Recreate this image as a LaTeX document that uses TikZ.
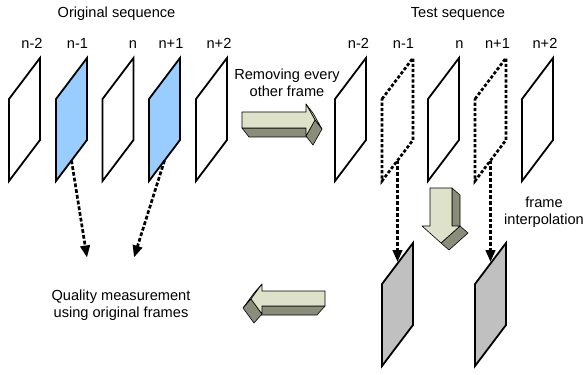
\documentclass[tikz,border=0pt]{standalone}
\usepackage{fontspec}
\setmainfont{Liberation Sans}
\usetikzlibrary{arrows.meta,calc}
\definecolor{blueframe}{HTML}{99CCFF}
\definecolor{grayframe}{HTML}{C0C0C0}
\definecolor{arrlight}{HTML}{DEE2CA}
\definecolor{arrdark}{HTML}{8B8D7B}
\definecolor{arrmid}{HTML}{BABDA7}
\newcommand\myframe[4]{%
  \coordinate (#1-tr) at ({#2+31},#3);
  \coordinate (#1-br) at ({#2+31},{#3+82});
  \coordinate (#1-bl) at (#2,{#3+123});
  \coordinate (#1-tl) at (#2,{#3+41});
  \coordinate (#1-bm) at ($(#1-bl)!0.5!(#1-br)$);
  \path[#4] (#1-tl) -- (#1-tr) -- (#1-br) -- (#1-bl) -- cycle;}
\begin{document}
\begin{tikzpicture}[x=1pt,y=-1pt,
  frame/.style={draw=black, line width=1.8pt, line join=miter, fill=white},
  dotframe/.style={draw=black, line width=2.7pt, dash pattern=on 3.2pt off 2pt},
  dotarrow/.style={draw=black, line width=2.7pt, dash pattern=on 3.8pt off 2pt, -{Triangle[width=9.5pt,length=12pt]}},
  lbl/.style={font=\fontsize{14.6}{16.5}\selectfont, anchor=base, inner sep=0pt},
  dface/.style={draw=black, line width=0.6pt, line join=round, fill=arrdark},
  mface/.style={draw=black, line width=0.6pt, line join=round, fill=arrmid},
  lface/.style={draw=black, line width=0.6pt, line join=round, fill=arrlight}]
\useasboundingbox (0,0) rectangle (585,374);

% titles
\node[lbl] (otitle) at (116.5,17.5) {Original sequence};
\node[lbl] (ttitle) at (458,17.5) {Test sequence};

% original frame labels
\node[lbl] (on2l) at (32,48.5) {n-2};
\node[lbl] (on1l) at (77.5,48.5) {n-1};
\node[lbl] (onl) at (133,48.5) {n};
\node[lbl] (op1l) at (171,48.5) {n+1};
\node[lbl] (op2l) at (219,48.5) {n+2};
% test frame labels
\node[lbl] (tn2l) at (358.5,48.5) {n-2};
\node[lbl] (tn1l) at (403.5,48.5) {n-1};
\node[lbl] (tnl) at (459.5,48.5) {n};
\node[lbl] (tp1l) at (497.5,48.5) {n+1};
\node[lbl] (tp2l) at (545,48.5) {n+2};

% original frames
\myframe{o1}{9}{58}{frame}
\myframe{o2}{56}{58}{frame,fill=blueframe}
\myframe{o3}{102.5}{58}{frame}
\myframe{o4}{149}{58}{frame,fill=blueframe}
\myframe{o5}{196}{58}{frame}

% test frames
\myframe{t1}{335}{58}{frame}
\myframe{t2}{382}{58}{dotframe}
\myframe{t3}{428}{58}{frame}
\myframe{t4}{475}{58}{dotframe}
\myframe{t5}{522}{58}{frame}

% interpolated frames
\myframe{g1}{382}{243}{frame,fill=grayframe}
\myframe{g2}{475}{243}{frame,fill=grayframe}

% connector ends
\coordinate (q1) at (87,257.5);
\coordinate (q2) at (134,257.5);
\coordinate (ga) at (397.5,262);
\coordinate (gb) at (490.5,262);

\draw[dotarrow] (o2-bm) -- (q1);
\draw[dotarrow] (o4-bm) -- (q2);
\draw[dotarrow] (t2-bm) -- (ga);
\draw[dotarrow] (t4-bm) -- (gb);

% texts
\node[lbl] (rem1) at (287,80) {Removing every};
\node[lbl] (rem2) at (287,96.3) {other frame};
\node[lbl] (qual1) at (121,300.7) {Quality measurement};
\node[lbl] (qual2) at (121,317) {using original frames};
\node[lbl] (int1) at (544,207.3) {frame};
\node[lbl] (int2) at (544,224) {interpolation};

% right 3D arrow
\path[dface] (242,128) -- (306,128) -- (313,137) -- (249,137) -- cycle;
\path[mface] (306,104) -- (315,120) -- (322,129) -- (313,113) -- cycle;
\path[dface] (315,120) -- (306,136) -- (313,145) -- (322,129) -- cycle;
\path[lface] (242,112) -- (306,112) -- (306,104) -- (315,120) -- (306,136) -- (306,128) -- (242,128) -- cycle;

% down 3D arrow
\path[dface] (452,188) -- (460,195) -- (460,233) -- (452,226) -- cycle;
\path[dface] (460,226) -- (441,243) -- (449,250) -- (468,233) -- cycle;
\path[lface] (430,188) -- (452,188) -- (452,226) -- (460,226) -- (441,243) -- (422,226) -- (430,226) -- cycle;

% left 3D arrow
\path[dface] (325,306) -- (262,306) -- (254,315) -- (317,315) -- cycle;
\path[mface] (262,284) -- (251,299) -- (243,308) -- (254,293) -- cycle;
\path[dface] (251,299) -- (262,314) -- (254,323) -- (243,308) -- cycle;
\path[lface] (325,291) -- (262,291) -- (262,284) -- (251,299) -- (262,314) -- (262,306) -- (325,306) -- cycle;
\end{tikzpicture}
\end{document}
